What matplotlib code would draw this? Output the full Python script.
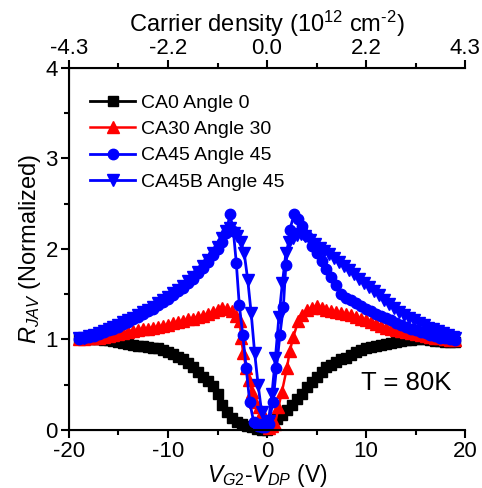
import numpy as np
import matplotlib.pyplot as plt

plt.rcParams['font.family'] = ['Liberation Sans', 'DejaVu Sans']
plt.rcParams['mathtext.fontset'] = 'custom'
plt.rcParams['mathtext.rm'] = 'Liberation Sans'
plt.rcParams['mathtext.it'] = 'Liberation Sans:italic'
plt.rcParams['axes.unicode_minus'] = False

# CA0 Angle 0 (black squares)
x_ca0 = [-19, -18.5, -18, -17.5, -17, -16.5, -16, -15.5, -15, -14.5, -14, -13.5, -13, -12.5,
         -12, -11.5, -11, -10.5, -10, -9.5, -9, -8.5, -8, -7.5, -7, -6.5, -6, -5.5, -5, -4.5,
         -4, -3.5, -3, -2.5, -2, -1.5, -1, -0.5, 0, 0.5, 1, 1.5, 2, 2.5, 3, 3.5, 4, 4.5, 5,
         5.5, 6, 6.5, 7, 7.5, 8, 8.5, 9, 9.5, 10, 10.5, 11, 11.5, 12, 12.5, 13, 13.5, 14, 14.5,
         15, 15.5, 16, 16.5, 17, 17.5, 18, 18.5, 19]
y_ca0 = [1.00, 1.00, 1.00, 1.00, 1.00, 0.99, 0.99, 0.98, 0.97, 0.96, 0.95, 0.94, 0.93, 0.93,
         0.92, 0.91, 0.90, 0.88, 0.86, 0.84, 0.81, 0.78, 0.74, 0.69, 0.64, 0.59, 0.54, 0.48, 0.40, 0.28,
         0.20, 0.13, 0.09, 0.06, 0.04, 0.03, 0.01, 0.00, 0.00, 0.06, 0.12, 0.17, 0.22, 0.28, 0.34, 0.40, 0.47, 0.53, 0.59,
         0.64, 0.69, 0.72, 0.75, 0.78, 0.80, 0.83, 0.86, 0.88, 0.90, 0.92, 0.93, 0.94, 0.95, 0.96, 0.97, 0.98, 0.99, 0.99,
         1.00, 1.00, 1.00, 0.99, 0.98, 0.98, 0.97, 0.97, 0.97]

# CA30 Angle 30 (red up triangles)
x_ca30 = [-19, -18.5, -18, -17.5, -17, -16.5, -16, -15.5, -15, -14.5, -14, -13.5, -13, -12.5,
          -12, -11.5, -11, -10.5, -10, -9.5, -9, -8.5, -8, -7.5, -7, -6.5, -6, -5.5, -5, -4.5,
          -4, -3.5, -3.1, -2.75, -2.6, -2.4, -2.1, -1.8, -1.5, -1.2, -0.85, -0.55, -0.2, 0.2, 0.5,
          0.8, 1.15, 1.5, 2.0, 2.3, 2.65, 3.15, 3.5, 4, 4.5, 5, 5.5, 6, 6.5, 7, 7.5, 8, 8.5, 9,
          9.5, 10, 10.5, 11, 11.5, 12, 12.5, 13, 13.5, 14, 14.5, 15, 15.5, 16, 16.5, 17, 17.5,
          18, 18.5, 19]
y_ca30 = [1.00, 1.00, 1.01, 1.02, 1.02, 1.03, 1.04, 1.05, 1.06, 1.07, 1.08, 1.09, 1.10, 1.11,
          1.12, 1.13, 1.14, 1.15, 1.16, 1.18, 1.19, 1.20, 1.22, 1.23, 1.25, 1.26, 1.28, 1.30, 1.32, 1.35,
          1.34, 1.31, 1.26, 1.20, 1.01, 0.85, 0.68, 0.55, 0.42, 0.31, 0.25, 0.20, 0.06, 0.02, 0.04,
          0.06, 0.25, 0.42, 0.68, 0.87, 1.03, 1.20, 1.27, 1.32, 1.35, 1.37, 1.35, 1.32, 1.31, 1.30, 1.29, 1.28, 1.27, 1.25,
          1.23, 1.21, 1.19, 1.17, 1.15, 1.13, 1.12, 1.10, 1.09, 1.08, 1.07, 1.06, 1.05, 1.04, 1.03, 1.02, 1.01,
          1.00, 0.99, 0.99]

# CA45 Angle 45 (blue circles)
x_ca45 = [-19, -18.5, -18, -17.5, -17, -16.5, -16, -15.5, -15, -14.5, -14, -13.5, -13, -12.5,
          -12, -11.5, -11, -10.5, -10, -9.5, -9, -8.5, -8, -7.5, -7, -6.5, -6, -5.5, -5, -4.5,
          -4.1, -3.75, -3.4, -3.1, -2.8, -2.45, -2.1, -1.75, -1.35, -0.95, -0.55, -0.2, 0.15, 0.6,
          0.95, 1.3, 1.65, 1.9, 2.3, 2.75, 3.1, 3.5, 4, 4.5, 5, 5.5, 6, 6.5, 7, 7.5, 8, 8.5, 9,
          9.5, 10, 10.5, 11, 11.5, 12, 12.5, 13, 13.5, 14, 14.5, 15, 15.5, 16, 16.5, 17, 17.5,
          18, 18.5, 19]
y_ca45 = [1.00, 1.01, 1.03, 1.04, 1.06, 1.08, 1.10, 1.12, 1.14, 1.17, 1.19, 1.22, 1.25, 1.28,
          1.31, 1.34, 1.38, 1.41, 1.45, 1.49, 1.53, 1.57, 1.62, 1.67, 1.73, 1.79, 1.86, 1.93, 2.00, 2.08,
          2.17, 2.39, 2.20, 1.84, 1.38, 1.05, 0.68, 0.31, 0.09, 0.04, 0.03, 0.03, 0.06, 0.31,
          0.68, 1.05, 1.36, 1.82, 2.21, 2.39, 2.33, 2.25, 2.14, 2.03, 1.95, 1.87, 1.78, 1.69, 1.60, 1.50, 1.46, 1.43, 1.40,
          1.37, 1.34, 1.31, 1.28, 1.26, 1.24, 1.21, 1.18, 1.16, 1.14, 1.12, 1.10, 1.08, 1.07, 1.05, 1.04, 1.02,
          1.01, 1.00, 0.99]

# CA45B Angle 45 (blue down triangles)
x_ca45b = [-19, -18.5, -18, -17.5, -17, -16.5, -16, -15.5, -15, -14.5, -14, -13.5, -13, -12.5,
           -12, -11.5, -11, -10.5, -10, -9.5, -9, -8.5, -8, -7.5, -7, -6.5, -6, -5.5, -5, -4.5,
           -4.1, -3.7, -3.35, -3.0, -2.65, -2.3, -1.95, -1.6, -1.25, -0.9, -0.55, -0.2, 0.15, 0.5,
           0.85, 1.2, 1.55, 1.9, 2.25, 2.6, 3.0, 3.4, 3.8, 4.3, 4.8, 5.3, 5.8, 6.3, 6.8, 7.3, 7.8,
           8.3, 8.8, 9.3, 9.8, 10.3, 10.8, 11.3, 11.8, 12.3, 12.8, 13.3, 13.8, 14.3, 14.8, 15.3,
           15.8, 16.3, 16.8, 17.3, 17.8, 18.3, 18.8, 19]
y_ca45b = [1.01, 1.02, 1.04, 1.05, 1.07, 1.09, 1.11, 1.14, 1.16, 1.19, 1.21, 1.24, 1.27, 1.30,
           1.33, 1.36, 1.40, 1.43, 1.47, 1.51, 1.55, 1.59, 1.64, 1.69, 1.75, 1.81, 1.88, 1.95, 2.02, 2.12,
           2.20, 2.23, 2.18, 2.14, 2.08, 1.95, 1.66, 1.29, 0.85, 0.50, 0.20, 0.05, 0.10, 0.40,
           0.80, 1.25, 1.62, 1.95, 2.08, 2.12, 2.15, 2.16, 2.14, 2.10, 2.05, 2.01, 1.98, 1.94, 1.90, 1.85, 1.81,
           1.77, 1.72, 1.67, 1.62, 1.58, 1.54, 1.49, 1.44, 1.39, 1.35, 1.30, 1.27, 1.24, 1.21, 1.18,
           1.16, 1.13, 1.11, 1.09, 1.07, 1.05, 1.03, 1.02]

top_ticks = [-20, -10, 0, 10, 20]
top_labels = ['-4.3', '-2.2', '0.0', '2.2', '4.3']

fig = plt.figure(figsize=(4.82, 4.88), dpi=100)
ax = fig.add_axes([0.143, 0.119, 0.822, 0.742])

ax.plot(x_ca0, y_ca0, '-s', color='black', lw=2, ms=6.5, label='CA0 Angle 0', clip_on=False)
ax.plot(x_ca30, y_ca30, '-^', color='red', lw=1.8, ms=8, label='CA30 Angle 30', clip_on=False)
ax.plot(x_ca45, y_ca45, '-o', color='blue', lw=2, ms=7.5, label='CA45 Angle 45', clip_on=False)
ax.plot(x_ca45b, y_ca45b, '-v', color='blue', lw=2, ms=8, label='CA45B Angle 45', clip_on=False)

ax.set_xlim(-20, 20)
ax.set_ylim(0, 4)
ax.set_xticks([-20, -10, 0, 10, 20])
ax.set_xticks([-15, -5, 5, 15], minor=True)
ax.set_yticks([0, 1, 2, 3, 4])
ax.set_yticks([0.5, 1.5, 2.5, 3.5], minor=True)
ax.tick_params(which='both', direction='out', width=1.5, labelsize=16, top=False, right=False)
ax.tick_params(which='major', length=6, pad=2)
ax.tick_params(which='minor', length=3.5)
ax.spines['right'].set_visible(False)
for s in ['left', 'bottom', 'top']:
    ax.spines[s].set_linewidth(1.5)

ax.set_xlabel('$V_{G2}$-$V_{DP}$ (V)', fontsize=16.5, labelpad=0)
ax.set_ylabel('$R_{JAV}$ (Normalized)', fontsize=17, labelpad=2)

ax2 = ax.twiny()
ax2.set_xlim(-20, 20)
ax2.set_xticks(top_ticks)
ax2.set_xticklabels(top_labels)
ax2.set_xticks([-15, -5, 5, 15], minor=True)
ax2.tick_params(which='both', direction='out', width=1.5, labelsize=16)
ax2.tick_params(which='major', length=6, pad=0)
ax2.tick_params(which='minor', length=3.5)
ax2.spines['right'].set_visible(False)
ax2.set_xlabel(r'Carrier density (10$^{12}$ cm$^{\text{-}2}$)', fontsize=17, labelpad=5)

ax.text(9.5, 0.52, 'T = 80K', fontsize=18.5, ha='left', va='center')

ax.legend(loc='upper left', bbox_to_anchor=(0.02, 0.965), frameon=False, fontsize=14,
          handlelength=2.3, labelspacing=0.45, handletextpad=0.3, borderaxespad=0.3)

plt.savefig('out.png', dpi=100)
